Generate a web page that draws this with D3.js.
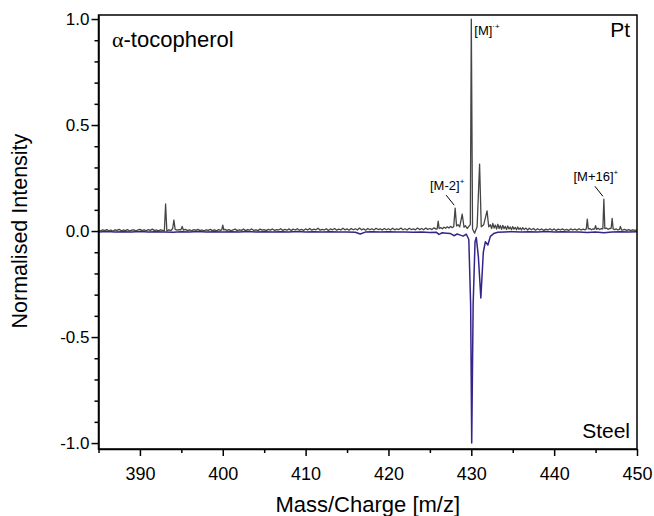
<!DOCTYPE html>
<html>
<head>
<meta charset="utf-8">
<script src="https://cdn.jsdelivr.net/npm/d3@7"></script>
<style>
  body { margin: 0; background: #fff; }
  svg { font-family: Arial, "Liberation Sans", sans-serif; }
</style>
</head>
<body>
<svg id="chart"></svg>
<script>
// Pt spectrum (positive), [m/z, normalised intensity]
const ptSpectrum = [
  [385.00, 0.004], [385.25, 0.000], [385.50, 0.006], [385.75, 0.002], [386.00, 0.007],
  [386.25, 0.001], [386.50, 0.005], [386.75, -0.001], [387.00, 0.006], [387.25, 0.003],
  [387.50, 0.008], [387.75, 0.001], [388.00, 0.005], [388.25, 0.002], [388.50, 0.007],
  [388.75, 0.000], [389.00, 0.004], [389.25, 0.006], [389.50, 0.001], [389.75, 0.005],
  [390.00, 0.008], [390.25, 0.002], [390.50, 0.006], [390.75, 0.001], [391.00, 0.007],
  [391.25, 0.003], [391.50, 0.009], [391.75, 0.002], [392.00, 0.005], [392.25, 0.001],
  [392.50, 0.006], [392.75, 0.003], [392.95, 0.000], [393.10, 0.128], [393.25, 0.000],
  [393.50, 0.006], [393.75, 0.002], [393.95, 0.012], [394.10, 0.052], [394.25, 0.008],
  [394.50, 0.004], [394.75, 0.007], [394.95, 0.006], [395.10, 0.022], [395.25, 0.004],
  [395.50, 0.008], [395.75, 0.002], [396.00, 0.006], [396.25, 0.001], [396.50, 0.007],
  [396.75, 0.003], [397.00, 0.008], [397.25, 0.002], [397.50, 0.005], [397.75, 0.001],
  [398.00, 0.006], [398.25, 0.003], [398.50, 0.008], [398.75, 0.002], [399.00, 0.006],
  [399.25, 0.001], [399.50, 0.007], [399.75, 0.003], [399.88, 0.006], [400.00, 0.028],
  [400.12, 0.005], [400.25, 0.008], [400.50, 0.003], [400.75, 0.007], [401.00, 0.001],
  [401.25, 0.006], [401.50, 0.009], [401.75, 0.002], [402.00, 0.006], [402.25, 0.003],
  [402.50, 0.009], [402.75, 0.002], [403.00, 0.007], [403.25, 0.004], [403.50, 0.010],
  [403.75, 0.003], [404.00, 0.006], [404.25, 0.002], [404.50, 0.009], [404.75, 0.004],
  [405.00, 0.007], [405.25, 0.002], [405.50, 0.008], [405.75, 0.004], [406.00, 0.010],
  [406.25, 0.003], [406.50, 0.007], [406.75, 0.005], [407.00, 0.011], [407.25, 0.003],
  [407.50, 0.008], [407.75, 0.004], [408.00, 0.010], [408.25, 0.002], [408.50, 0.009],
  [408.75, 0.005], [409.00, 0.011], [409.25, 0.004], [409.50, 0.008], [409.75, 0.003],
  [410.00, 0.010], [410.25, 0.005], [410.50, 0.012], [410.75, 0.004], [411.00, 0.009],
  [411.25, 0.006], [411.50, 0.013], [411.75, 0.004], [412.00, 0.008], [412.25, 0.005],
  [412.50, 0.011], [412.75, 0.003], [413.00, 0.010], [413.25, 0.006], [413.50, 0.012],
  [413.75, 0.004], [414.00, 0.009], [414.25, 0.005], [414.50, 0.013], [414.75, 0.006],
  [415.00, 0.010], [415.25, 0.004], [415.50, 0.012], [415.75, 0.006], [416.00, 0.011],
  [416.25, 0.005], [416.50, 0.014], [416.75, 0.006], [417.00, 0.010], [417.25, 0.004],
  [417.50, 0.012], [417.75, 0.006], [418.00, 0.011], [418.25, 0.005], [418.50, 0.013],
  [418.75, 0.007], [419.00, 0.010], [419.25, 0.005], [419.50, 0.012], [419.75, 0.006],
  [420.00, 0.011], [420.25, 0.005], [420.50, 0.013], [420.75, 0.006], [421.00, 0.010],
  [421.25, 0.007], [421.50, 0.014], [421.75, 0.006], [422.00, 0.011], [422.25, 0.005],
  [422.50, 0.013], [422.75, 0.007], [423.00, 0.010], [423.25, 0.006], [423.50, 0.014],
  [423.75, 0.007], [424.00, 0.012], [424.25, 0.006], [424.50, 0.014], [424.75, 0.008],
  [425.00, 0.012], [425.25, 0.007], [425.50, 0.015], [425.75, 0.009], [425.88, 0.010],
  [426.00, 0.047], [426.12, 0.012], [426.30, 0.016], [426.50, 0.011], [426.70, 0.018],
  [426.90, 0.013], [427.10, 0.020], [427.30, 0.014], [427.50, 0.022], [427.70, 0.016],
  [427.88, 0.022], [428.05, 0.108], [428.22, 0.024], [428.40, 0.030], [428.60, 0.020],
  [428.90, 0.080], [429.12, 0.018], [429.30, 0.025], [429.50, 0.012], [429.70, 0.022],
  [429.88, 0.030], [430.00, 1.000], [430.15, 0.010], [430.40, -0.010], [430.70, 0.020],
  [431.00, 0.316], [431.20, 0.020], [431.50, 0.030], [431.90, 0.095], [432.10, 0.020],
  [432.30, 0.030], [432.45, 0.012], [432.60, 0.036], [432.75, 0.014], [432.90, 0.028],
  [433.05, 0.009], [433.20, 0.032], [433.35, 0.012], [433.50, 0.026], [433.65, 0.008],
  [433.80, 0.027], [433.95, 0.011], [434.10, 0.022], [434.25, 0.007], [434.40, 0.024],
  [434.55, 0.010], [434.70, 0.019], [434.85, 0.006], [435.00, 0.021], [435.15, 0.009],
  [435.30, 0.017], [435.45, 0.006], [435.60, 0.019], [435.75, 0.008], [435.90, 0.015],
  [436.05, 0.005], [436.20, 0.016], [436.40, 0.007], [436.60, 0.014], [436.80, 0.005],
  [437.00, 0.013], [437.25, 0.006], [437.50, 0.012], [437.75, 0.004], [438.00, 0.011],
  [438.25, 0.005], [438.50, 0.010], [438.75, 0.003], [439.00, 0.009], [439.25, 0.005],
  [439.50, 0.011], [439.75, 0.004], [440.00, 0.010], [440.25, 0.003], [440.50, 0.009],
  [440.75, 0.005], [441.00, 0.010], [441.25, 0.004], [441.50, 0.008], [441.75, 0.003],
  [442.00, 0.010], [442.25, 0.005], [442.50, 0.009], [442.75, 0.004], [443.00, 0.011],
  [443.25, 0.005], [443.50, 0.009], [443.75, 0.006], [443.88, 0.010], [444.00, 0.056],
  [444.12, 0.010], [444.30, 0.012], [444.50, 0.006], [444.70, 0.010], [444.88, 0.009],
  [445.00, 0.025], [445.12, 0.008], [445.30, 0.013], [445.50, 0.007], [445.70, 0.012],
  [445.88, 0.010], [446.00, 0.150], [446.12, 0.012], [446.30, 0.014], [446.50, 0.008],
  [446.70, 0.012], [446.88, 0.013], [447.00, 0.060], [447.12, 0.010], [447.30, 0.007],
  [447.50, 0.010], [447.70, 0.005], [447.88, 0.008], [448.00, 0.022], [448.12, 0.006],
  [448.25, 0.004], [448.50, 0.008], [448.75, 0.003], [449.00, 0.007], [449.25, 0.002],
  [449.50, 0.006], [449.75, 0.003], [450.00, 0.006]
];

// Steel spectrum (plotted negative), [m/z, normalised intensity]
const steelSpectrum = [
  [385, -0.004], [386, -0.002], [387, -0.005], [388, -0.003], [389, -0.004],
  [390, -0.002], [391, -0.005], [392, -0.003], [393, -0.004], [394, -0.006],
  [395, -0.003], [396, -0.004], [397, -0.002], [398, -0.005], [399, -0.003],
  [400, -0.004], [401, -0.003], [402, -0.005], [403, -0.002], [404, -0.004],
  [405, -0.003], [406, -0.005], [407, -0.003], [408, -0.004], [409, -0.002],
  [410, -0.005], [411, -0.003], [412, -0.004], [413, -0.003], [414, -0.005],
  [415, -0.004], [416, -0.006], [416.6, -0.014], [417.2, -0.005], [418, -0.003],
  [419, -0.004], [420, -0.003], [421, -0.005], [422, -0.004], [423, -0.006],
  [424, -0.005], [425, -0.007], [425.8, -0.006], [426.1, -0.016], [426.5, -0.008],
  [427, -0.010], [427.5, -0.012], [427.9, -0.022], [428.3, -0.014], [428.6, -0.018],
  [429.0, -0.024], [429.4, -0.015], [429.7, -0.040], [429.92, -0.35], [430.05, -1.0],
  [430.22, -0.35], [430.45, -0.05], [430.6, -0.03], [430.85, -0.12], [431.15, -0.316],
  [431.45, -0.10], [431.7, -0.05], [432.0, -0.066], [432.3, -0.025], [432.7, -0.012],
  [433.2, -0.006], [434, -0.004], [435, -0.003], [436, -0.005], [437, -0.003],
  [438, -0.004], [439, -0.002], [440, -0.004], [441, -0.003], [442, -0.005],
  [443, -0.004], [444, -0.007], [445, -0.005], [446, -0.008], [447, -0.004],
  [448, -0.003], [449, -0.004], [450, -0.003]
];

const xMajorTicks = [390, 400, 410, 420, 430, 440, 450];
const xMinorTicks = [385, 395, 405, 415, 425, 435, 445];
const yMajorTicks = [-1.0, -0.5, 0.0, 0.5, 1.0];
const yMinorTicks = [-0.9, -0.8, -0.7, -0.6, -0.4, -0.3, -0.2, -0.1, 0.1, 0.2, 0.3, 0.4, 0.6, 0.7, 0.8, 0.9];

// annotated ions: label, m/z, peak height, superscript
const ionLabels = [
  { label: "[M-2]", sup: "+", mz: 428.05, h: 0.108 },
  { label: "[M+16]", sup: "+", mz: 446.0, h: 0.150 }
];

const width = 654, height = 516;
const margin = { top: 15, right: 17, bottom: 67, left: 98.5 };

const svg = d3.select("#chart").attr("width", width).attr("height", height);

const x = d3.scaleLinear().domain([385, 450]).range([margin.left, width - margin.right]);
const y = d3.scaleLinear().domain([-1.028, 1.019]).range([height - margin.bottom, margin.top]);

const line = d3.line().x(d => x(d[0])).y(d => y(d[1]));

svg.append("clipPath").attr("id", "plot-clip")
  .append("rect")
  .attr("x", margin.left).attr("y", margin.top)
  .attr("width", x.range()[1] - margin.left)
  .attr("height", y.range()[0] - margin.top);

const plot = svg.append("g").attr("clip-path", "url(#plot-clip)");

plot.append("path")
  .datum(steelSpectrum)
  .attr("d", line)
  .attr("fill", "none")
  .attr("stroke", "#35248a")
  .attr("stroke-width", 1.5)
  .attr("stroke-linejoin", "round");

plot.append("path")
  .datum(ptSpectrum)
  .attr("d", line)
  .attr("fill", "none")
  .attr("stroke", "#454545")
  .attr("stroke-width", 1.3)
  .attr("stroke-linejoin", "round");

// hyphen instead of unicode minus, like the original
const fmt = d => d3.format(".1f")(d).replace("−", "-");

// axes
const xAxis = svg.append("g").attr("transform", `translate(0,${y.range()[0]})`);
xAxis.call(d3.axisBottom(x).tickValues(xMajorTicks).tickSize(7).tickSizeOuter(0).tickFormat(d3.format("d")));
xAxis.append("g").call(d3.axisBottom(x).tickValues(xMinorTicks).tickSize(4).tickFormat(""))
  .select(".domain").remove();
xAxis.selectAll("text").attr("font-size", 18).attr("font-family", "Arial, 'Liberation Sans', sans-serif")
  .attr("fill", "#000").attr("dy", "1.15em");

const yAxis = svg.append("g").attr("transform", `translate(${margin.left},0)`);
yAxis.call(d3.axisLeft(y).tickValues(yMajorTicks).tickSize(7).tickSizeOuter(0).tickFormat(fmt));
yAxis.append("g").call(d3.axisLeft(y).tickValues(yMinorTicks).tickSize(4).tickFormat(""))
  .select(".domain").remove();
yAxis.selectAll("text").attr("font-size", 17).attr("font-family", "Arial, 'Liberation Sans', sans-serif")
  .attr("fill", "#000").attr("x", -9);

svg.selectAll(".domain, .tick line").attr("stroke", "#000").attr("stroke-width", 1.5);

// frame
svg.append("rect")
  .attr("x", margin.left).attr("y", margin.top)
  .attr("width", x.range()[1] - margin.left)
  .attr("height", y.range()[0] - margin.top)
  .attr("fill", "none").attr("stroke", "#000").attr("stroke-width", 1.5);

// axis titles
svg.append("text")
  .attr("x", (x.range()[0] + x.range()[1]) / 2).attr("y", 512)
  .attr("text-anchor", "middle").attr("font-size", 22)
  .text("Mass/Charge [m/z]");

svg.append("text")
  .attr("transform", `translate(27,${y(0)}) rotate(-90)`)
  .attr("text-anchor", "middle").attr("font-size", 21.5)
  .text("Normalised Intensity");

// panel labels
const title = svg.append("text").attr("x", 112).attr("y", 47).attr("font-size", 22);
title.append("tspan").attr("font-family", "'Liberation Serif', 'DejaVu Serif', serif").text("α");
title.append("tspan").text("-tocopherol");

svg.append("text").attr("x", 630).attr("y", 37).attr("text-anchor", "end")
  .attr("font-size", 21).text("Pt");
svg.append("text").attr("x", 630).attr("y", 438).attr("text-anchor", "end")
  .attr("font-size", 21).text("Steel");

// molecular ion label
const mLabel = svg.append("text").attr("x", x(430) + 3).attr("y", 35).attr("font-size", 13);
mLabel.append("tspan").text("[M]");
mLabel.append("tspan").attr("font-size", 8).attr("dy", -6).text("·+");

// annotated peaks with leader lines
ionLabels.forEach(d => {
  const px = x(d.mz), py = y(d.h);
  svg.append("line")
    .attr("x1", px - 9).attr("y1", py - 13)
    .attr("x2", px - 1).attr("y2", py - 3)
    .attr("stroke", "#000").attr("stroke-width", 1);
  const t = svg.append("text")
    .attr("x", px - 8).attr("y", py - 18)
    .attr("text-anchor", "middle").attr("font-size", 13);
  t.append("tspan").text(d.label);
  t.append("tspan").attr("font-size", 8).attr("dy", -6).text(d.sup);
});
</script>
</body>
</html>
